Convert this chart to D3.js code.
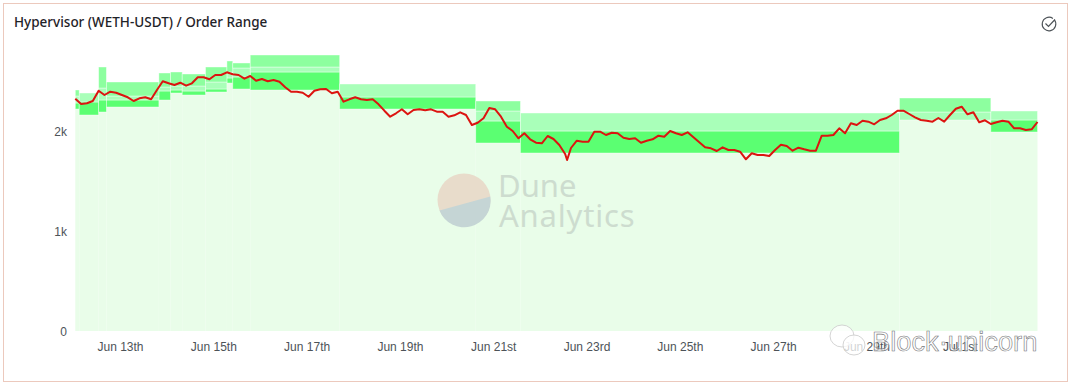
<!DOCTYPE html>
<html>
<head>
<meta charset="utf-8">
<script src="https://cdn.jsdelivr.net/npm/d3@7"></script>
<style>
	html, body { margin: 0; padding: 0; background: #fff; }
	svg { display: block; font-family: "Noto Sans", "Open Sans", sans-serif; }
	.axis text { fill: #4d5358; font-size: 12px; }
	.axis path, .axis line { display: none; }
</style>
</head>
<body>
<div id="chart"></div>
<script>
// hours since Jun 12 01:00
const periodHours = [0, 2, 12, 16, 43, 49, 55, 67, 78, 81, 90, 136, 206, 229, 424, 471, 495];
const rangeLow = [2220, 2160, 2190, 2240, 2310, 2380, 2360, 2390, 2480, 2420, 2410, 2220, 1880, 1780, 2110, 1990];
const rangeMid = [2280, 2290, 2310, 2310, 2400, 2410, 2400, 2420, 2530, 2540, 2590, 2340, 2100, 2000, 2110, 2110];
const rangeHigh = [2350, 2380, 2430, 2350, 2440, 2450, 2450, 2490, 2590, 2630, 2640, 2470, 2200, 2180, 2190, 2200];
const rangeTop = [2410, 2380, 2640, 2490, 2580, 2590, 2570, 2640, 2700, 2680, 2760, 2470, 2300, 2180, 2330, 2200];

const priceHours = [
	0, 3, 6, 9, 12, 15, 18, 21, 24, 27, 30, 33, 36, 39, 42, 45, 48, 51, 54, 57, 60, 63, 66, 69, 72, 75, 78, 81, 84, 87,
	90, 93, 96, 99, 102, 105, 108, 111, 114, 117, 120, 123, 126, 129, 132, 135, 138, 141, 144, 147, 150, 153, 156, 159,
	162, 165, 168, 171, 174, 177, 180, 183, 186, 189, 192, 195, 198, 201, 204, 207, 210, 213, 216, 219, 222, 225, 228,
	231, 234, 237, 240, 243, 246, 249, 252, 253, 255, 258, 261, 264, 267, 270, 273, 276, 279, 282, 285, 288, 291, 294,
	297, 300, 303, 306, 309, 312, 315, 318, 321, 324, 327, 330, 333, 336, 339, 342, 345, 348, 351, 354, 357, 360, 363,
	366, 369, 372, 375, 378, 381, 384, 387, 390, 393, 396, 399, 402, 405, 408, 411, 414, 417, 420, 423, 426, 429, 432,
	435, 438, 441, 444, 447, 450, 453, 456, 459, 462, 465, 468, 471, 474, 477, 480, 483, 486, 489, 492, 495
];
const priceValues = [
	2323, 2270, 2277, 2300, 2403, 2360, 2393, 2383, 2360, 2337, 2300, 2327, 2337, 2317, 2410, 2497, 2477, 2460, 2483, 2453,
	2477, 2537, 2537, 2517, 2560, 2560, 2587, 2567, 2560, 2523, 2550, 2503, 2520, 2497, 2510, 2493, 2437, 2393, 2393, 2383,
	2343, 2403, 2417, 2420, 2377, 2393, 2293, 2317, 2337, 2317, 2310, 2317, 2267, 2203, 2143, 2177, 2217, 2167, 2210, 2217,
	2207, 2217, 2193, 2193, 2143, 2157, 2187, 2160, 2060, 2083, 2127, 2230, 2217, 2143, 2043, 2000, 1927, 1977, 1917, 1883,
	1877, 1950, 1920, 1860, 1770, 1710, 1830, 1903, 1893, 1893, 1993, 1993, 1960, 1983, 1977, 1933, 1920, 1927, 1883, 1903,
	1917, 1953, 1943, 2000, 1977, 1960, 1987, 1937, 1887, 1837, 1827, 1800, 1837, 1810, 1810, 1793, 1717, 1777, 1760, 1760,
	1750, 1810, 1863, 1850, 1803, 1833, 1817, 1803, 1803, 1953, 1953, 1960, 2027, 1977, 2077, 2060, 2103, 2093, 2067, 2110,
	2127, 2160, 2203, 2203, 2170, 2137, 2110, 2103, 2093, 2130, 2093, 2160, 2223, 2243, 2167, 2187, 2087, 2107, 2070, 2087,
	2103, 2093, 2027, 2027, 2010, 2017, 2090
];

const xTickDays = ['2021-06-13', '2021-06-15', '2021-06-17', '2021-06-19', '2021-06-21', '2021-06-23', '2021-06-25', '2021-06-27', '2021-06-29', '2021-07-01'];
const xTickLabels = ['Jun 13th', 'Jun 15th', 'Jun 17th', 'Jun 19th', 'Jun 21st', 'Jun 23rd', 'Jun 25th', 'Jun 27th', 'Jun 29th', 'Jul 1st'];
const yTickValues = [0, 1000, 2000];
const yTickLabels = ['0', '1k', '2k'];

const width = 1073,
	height = 386,
	startTime = new Date(2021, 5, 12, 1),
	parseDay = d3.timeParse('%Y-%m-%d'),
	hourToDate = h => d3.timeHour.offset(startTime, h);

const xScale = d3.scaleTime()
	.domain([startTime, hourToDate(495)])
	.range([75.3, 1037.5]);

const yScale = d3.scaleLinear()
	.domain([0, 3000])
	.range([331, 31]);

const svg = d3.select('#chart').append('svg')
	.attr('width', width)
	.attr('height', height);

// outer card
svg.append('rect')
	.attr('x', 3.5)
	.attr('y', 3.5)
	.attr('width', 1064)
	.attr('height', 378)
	.attr('fill', '#fff')
	.attr('stroke', '#ecc9bd');

svg.append('text')
	.attr('x', 14)
	.attr('y', 27)
	.attr('fill', '#1f2328')
	.style('font-size', '13.5px')
	.style('font-weight', 500)
	.text('Hypervisor (WETH-USDT) / Order Range');

// done icon, top right
const icon = svg.append('g').attr('transform', 'translate(1049, 24)');
icon.append('path')
	.attr('d', d3.arc()({innerRadius: 6.8, outerRadius: 6.8, startAngle: 0.9, endAngle: 6.9}))
	.attr('fill', 'none')
	.attr('stroke', '#4d5358')
	.attr('stroke-width', 1.1);
icon.append('path')
	.attr('d', 'M-3.5,-0.5L-0.5,2.5L6,-4.5')
	.attr('fill', 'none')
	.attr('stroke', '#4d5358')
	.attr('stroke-width', 1.2);

// order range bands, one cell per rebalance period
const layers = [
	{lo: () => 0, hi: i => rangeLow[i], fill: '#e9fde9', stroke: 'none'},
	{lo: i => rangeLow[i], hi: i => rangeMid[i], fill: '#5bff72', stroke: '#fff'},
	{lo: i => rangeMid[i], hi: i => rangeHigh[i], fill: '#a9ffb9', stroke: '#fff'},
	{lo: i => rangeHigh[i], hi: i => rangeTop[i], fill: '#8dff9f', stroke: '#fff'}
];

const bands = svg.append('g').attr('class', 'bands');
layers.forEach(layer => {
	bands.append('g').selectAll('rect')
		.data(d3.range(rangeLow.length).filter(i => layer.hi(i) > layer.lo(i)))
		.join('rect')
		.attr('x', i => xScale(hourToDate(periodHours[i])))
		.attr('width', i => xScale(hourToDate(periodHours[i + 1])) - xScale(hourToDate(periodHours[i])))
		.attr('y', i => yScale(layer.hi(i)))
		.attr('height', i => yScale(layer.lo(i)) - yScale(layer.hi(i)))
		.attr('fill', layer.fill)
		.attr('stroke', layer.stroke)
		.attr('stroke-opacity', 0.5)
		.attr('stroke-width', 0.8);
});

// Dune watermark
const logo = svg.append('g').attr('transform', 'translate(464, 200)');
logo.append('circle')
	.attr('r', 26.5)
	.attr('fill', '#e8dccb');
logo.append('path')
	.attr('d', 'M-24.5,10.5L26.3,-3.5A26.5,26.5 0 0 1 -24.5,10.5Z')
	.attr('fill', '#c5d5d5');

svg.append('text')
	.attr('x', 498)
	.attr('y', 197)
	.attr('fill', '#cddccf')
	.style('font-size', '31px')
	.text('Dune');
svg.append('text')
	.attr('x', 499)
	.attr('y', 226.5)
	.attr('fill', '#cddccf')
	.style('font-size', '31px')
	.style('letter-spacing', '0.8px')
	.text('Analytics');

// price line
const line = d3.line()
	.x((d, i) => xScale(hourToDate(priceHours[i])))
	.y(d => yScale(d));

svg.append('path')
	.datum(priceValues)
	.attr('fill', 'none')
	.attr('stroke', '#dc1410')
	.attr('stroke-width', 2)
	.attr('stroke-linejoin', 'round')
	.attr('d', line);

const xAxis = d3.axisBottom(xScale)
	.tickValues(xTickDays.map(parseDay))
	.tickSize(0)
	.tickPadding(3)
	.tickFormat((d, i) => xTickLabels[i]);

svg.append('g')
	.attr('class', 'x axis')
	.attr('transform', 'translate(0, 339)')
	.call(xAxis);

const yAxis = d3.axisLeft(yScale)
	.tickValues(yTickValues)
	.tickSize(0)
	.tickPadding(8)
	.tickFormat((d, i) => yTickLabels[i]);

svg.append('g')
	.attr('class', 'y axis')
	.attr('transform', 'translate(75, 1)')
	.call(yAxis);

// wechat style watermark, bottom right
const chat = svg.append('g').attr('fill', '#fff').attr('fill-opacity', 0.75).attr('stroke', '#c9c9c9').attr('stroke-width', 0.8);
chat.append('ellipse').attr('cx', 842).attr('cy', 336).attr('rx', 12).attr('ry', 11);
chat.append('ellipse').attr('cx', 854).attr('cy', 345).attr('rx', 11).attr('ry', 10);

svg.append('text')
	.attr('x', 872)
	.attr('y', 351)
	.attr('fill', '#fff')
	.attr('fill-opacity', 0.65)
	.attr('stroke', '#77787a')
	.attr('stroke-width', 0.6)
	.style('font-family', '"Liberation Sans", sans-serif')
	.style('font-size', '27.3px')
	.text('Block·unicorn');
</script>
</body>
</html>
